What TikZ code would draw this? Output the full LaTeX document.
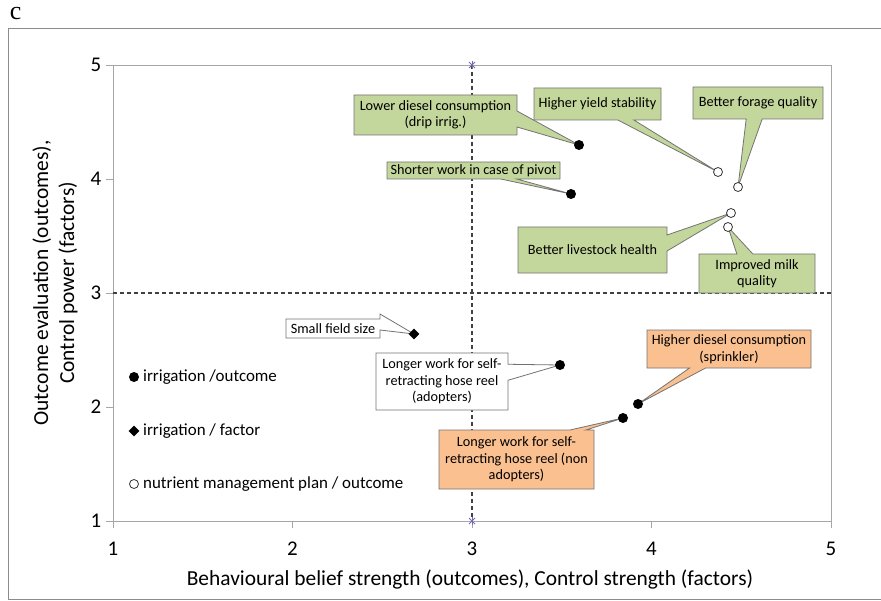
\documentclass[tikz,border=0pt]{standalone}
\usepackage{fontspec}
\setmainfont{Carlito}
\newfontfamily\panelfont{Liberation Serif}
\usetikzlibrary{shapes.callouts,shapes.geometric}

\definecolor{calloutgreen}{HTML}{C3D69B}
\definecolor{calloutorange}{HTML}{FAC090}
\definecolor{markpurple}{HTML}{7A68B0}

\tikzset{
  frameline/.style={draw=black!45, line width=0.9bp},
  axisline/.style={draw=black!35, line width=0.9bp},
  refline/.style={draw=black!75, dash pattern=on 4bp off 3bp, line width=1.1bp},
  ticklabel/.style={font=\fontsize{21}{23}\selectfont, inner sep=0pt},
  axistitle/.style={font=\fontsize{21.5}{26}\selectfont, align=center, inner sep=0pt},
  legendtext/.style={font=\fontsize{17}{20}\selectfont, anchor=west, inner sep=0pt},
  callbase/.style={rectangle callout, draw=black!55, line width=0.8bp, align=center,
    font=\fontsize{14.3}{16.5}\selectfont, inner sep=1bp, callout pointer width=16bp},
  greencall/.style={callbase, fill=calloutgreen},
  orangecall/.style={callbase, fill=calloutorange},
  whitecall/.style={callbase, fill=white},
  fulldot/.style={circle, fill=black, inner sep=0pt, minimum size=10bp},
  opendot/.style={circle, draw=black!80, fill=white, line width=0.8bp, inner sep=0pt, minimum size=9bp},
  fulldiamond/.style={diamond, fill=black, inner sep=0pt, minimum size=11bp},
  endmark/.style={draw=markpurple, line width=0.8bp}
}

\begin{document}
\begin{tikzpicture}[x=1bp, y=-1bp]
\useasboundingbox (0,0) rectangle (881,601);

% panel letter and outer frame
\node[font=\panelfont\fontsize{26}{28}\selectfont, inner sep=0pt] (panel) at (15.5,14) {c};
\draw[frameline] (895,28) -- (8,28) -- (8,599) -- (895,599);

% plot area corners
\coordinate (o)  at (113,521);
\coordinate (tl) at (113,65);
\coordinate (tr) at (831,65);
\coordinate (br) at (831,521);

% axes and plot area border
\draw[axisline] (tl) -- (tr) -- (br);
\draw[axisline] (tl) -- (o) -- (br);

% ticks and tick labels
\foreach \i/\v in {0/1,1/2,2/3,3/4,4/5}{
  \draw[axisline] (113+179.5*\i,521) -- (113+179.5*\i,528);
  \node[ticklabel] (xl\v) at (113+179.5*\i,549) {\v};
  \draw[axisline] (106,521-114*\i) -- (113,521-114*\i);
  \node[ticklabel] (yl\v) at (96,521-114*\i) {\v};
}

% axis titles
\node[axistitle] (xtitle) at (470,580) {Behavioural belief strength (outcomes), Control strength (factors)};
\node[axistitle, rotate=90] (ytitle) at (55,283) {Outcome evaluation (outcomes),\\Control power (factors)};

% reference lines at 3
\coordinate (vt) at (472,65);
\coordinate (vb) at (472,521);
\coordinate (hl) at (113,293);
\coordinate (hr) at (831,293);
\draw[refline] (vt) -- (vb);
\draw[refline] (hl) -- (hr);
\foreach \m in {vt,vb}{
  \draw[endmark] ([shift={(-3,-3)}]\m) -- ([shift={(3,3)}]\m);
  \draw[endmark] ([shift={(-3,3)}]\m) -- ([shift={(3,-3)}]\m);
  \draw[endmark] ([shift={(0,-4)}]\m) -- ([shift={(0,4)}]\m);
}

% data points
\coordinate (p1)  at (579,145);  % lower diesel consumption
\coordinate (p2)  at (571,194);  % shorter work, pivot
\coordinate (p3)  at (718,172);  % higher yield stability
\coordinate (p4)  at (738,187);  % better forage quality
\coordinate (p5)  at (731,213);  % better livestock health
\coordinate (p6)  at (728,227);  % improved milk quality
\coordinate (p7)  at (414,334);  % small field size
\coordinate (p8)  at (560,365);  % hose reel, adopters
\coordinate (p9)  at (638,404);  % higher diesel consumption
\coordinate (p10) at (623,418);  % hose reel, non adopters

% callouts
\node[greencall, minimum width=163bp, minimum height=40bp, callout absolute pointer={(p1)}] (c1) at (435.5,115) {Lower diesel consumption\\(drip irrig.)};
\node[greencall, minimum width=173bp, minimum height=17bp, callout absolute pointer={(p2)}] (c2) at (473.5,170.5) {Shorter work in case of pivot};
\node[greencall, minimum width=127bp, minimum height=32bp, callout absolute pointer={(p3)}] (c3) at (597.5,104) {Higher yield stability};
\node[greencall, minimum width=130bp, minimum height=32bp, callout absolute pointer={(p4)}] (c4) at (758,103) {Better forage quality};
\node[greencall, minimum width=149bp, minimum height=46bp, callout absolute pointer={(p5)}] (c5) at (592.5,250) {Better livestock health};
\node[greencall, minimum width=116bp, minimum height=39bp, callout absolute pointer={(p6)}] (c6) at (757,273.5) {Improved milk\\quality};
\node[whitecall, minimum width=94bp, minimum height=19bp, callout absolute pointer={(p7)}] (c7) at (333,328.5) {Small field size};
\node[whitecall, minimum width=132bp, minimum height=57bp, callout absolute pointer={(p8)}] (c8) at (442,381.5) {Longer work for self-\\retracting hose reel\\(adopters)};
\node[orangecall, minimum width=164bp, minimum height=38bp, callout absolute pointer={(p9)}] (c9) at (729,349) {Higher diesel consumption\\(sprinkler)};
\node[orangecall, minimum width=155bp, minimum height=59bp, callout absolute pointer={(p10)}] (c10) at (516.5,459.5) {Longer work for self-\\retracting hose reel (non\\adopters)};

% markers
\node[fulldot] (d1) at (p1) {};
\node[fulldot] (d2) at (p2) {};
\node[opendot] (d3) at (p3) {};
\node[opendot] (d4) at (p4) {};
\node[opendot] (d5) at (p5) {};
\node[opendot] (d6) at (p6) {};
\node[fulldiamond] (d7) at (p7) {};
\node[fulldot] (d8) at (p8) {};
\node[fulldot] (d9) at (p9) {};
\node[fulldot] (d10) at (p10) {};

% legend
\node[fulldot] (lm1) at (134,377) {};
\node[legendtext] (lt1) at (143,377) {irrigation /outcome};
\node[fulldiamond] (lm2) at (134,431) {};
\node[legendtext] (lt2) at (143,431) {irrigation / factor};
\node[opendot] (lm3) at (134,484) {};
\node[legendtext] (lt3) at (143,484) {nutrient management plan / outcome};
\end{tikzpicture}
\end{document}
